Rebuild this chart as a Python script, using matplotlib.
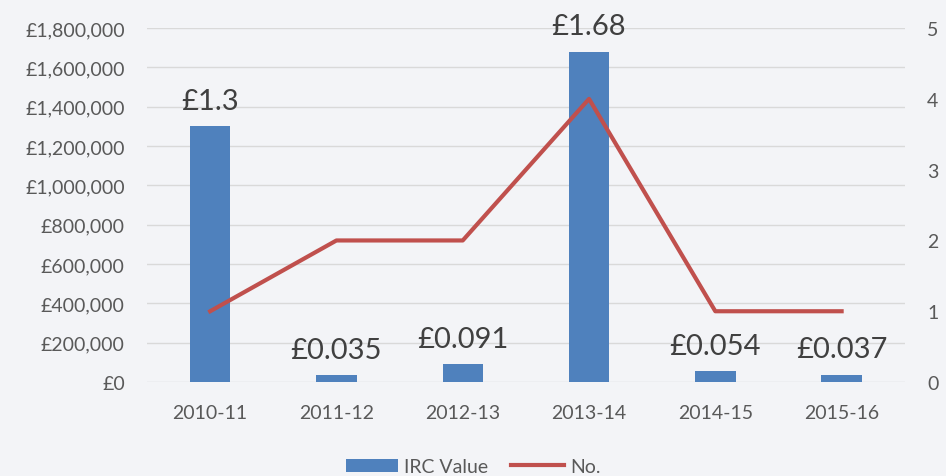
import numpy as np
import matplotlib.pyplot as plt
from matplotlib.ticker import FuncFormatter

years = ['2010-11', '2011-12', '2012-13', '2013-14', '2014-15', '2015-16']
irc_value = [1300000, 35000, 91000, 1680000, 54000, 37000]
irc_labels = ['£1.3', '£0.035', '£0.091', '£1.68', '£0.054', '£0.037']
count_no = [1, 2, 2, 4, 1, 1]

plt.rcParams['font.family'] = ['Lato', 'DejaVu Sans']

bg = '#f3f4f7'
fig = plt.figure(figsize=(9.46, 4.77), dpi=100, facecolor=bg)
ax = fig.add_axes([0.1554, 0.197, 0.801, 0.742])
ax.set_facecolor(bg)

x = np.arange(len(years))
bars = ax.bar(x, irc_value, width=0.32, color='#4f81bd', label='IRC Value', zorder=2)
ax.set_xlim(-0.5, len(years) - 0.5)
ax.set_ylim(0, 1800000)
ax.set_yticks(np.arange(0, 1800001, 200000))
ax.yaxis.set_major_formatter(FuncFormatter(lambda v, p: '£{:,.0f}'.format(v)))
ax.set_xticks(x)
ax.set_xticklabels(years)
ax.grid(axis='y', color='#d9d9d9', linewidth=1, zorder=0)
for s in ax.spines.values():
    s.set_visible(False)
ax.tick_params(axis='both', length=0, labelsize=14, colors='#595959')
ax.tick_params(axis='y', pad=16)
ax.tick_params(axis='x', pad=16)

for b, lab in zip(bars, irc_labels):
    ax.annotate(lab, (b.get_x() + b.get_width() / 2, b.get_height()),
                xytext=(0, 9), textcoords='offset points', ha='center', va='bottom',
                fontsize=21, color='#404040', zorder=4)

ax2 = ax.twinx()
ax2.plot(x, count_no, color='#c0504d', linewidth=3, label='No.', zorder=3)
ax2.set_ylim(0, 5)
ax2.set_yticks(range(0, 6))
for s in ax2.spines.values():
    s.set_visible(False)
ax2.tick_params(axis='y', length=0, labelsize=14, colors='#595959', pad=16)

h1, l1 = ax.get_legend_handles_labels()
h2, l2 = ax2.get_legend_handles_labels()
fig.legend(h1 + h2, l1 + l2, loc='lower center', bbox_to_anchor=(0.5, -0.035), ncol=2,
           frameon=False, fontsize=14, labelcolor='#595959', handlelength=2.7,
           handletextpad=0.3, columnspacing=1.2)

fig.savefig('out.png', dpi=100, facecolor=bg)
